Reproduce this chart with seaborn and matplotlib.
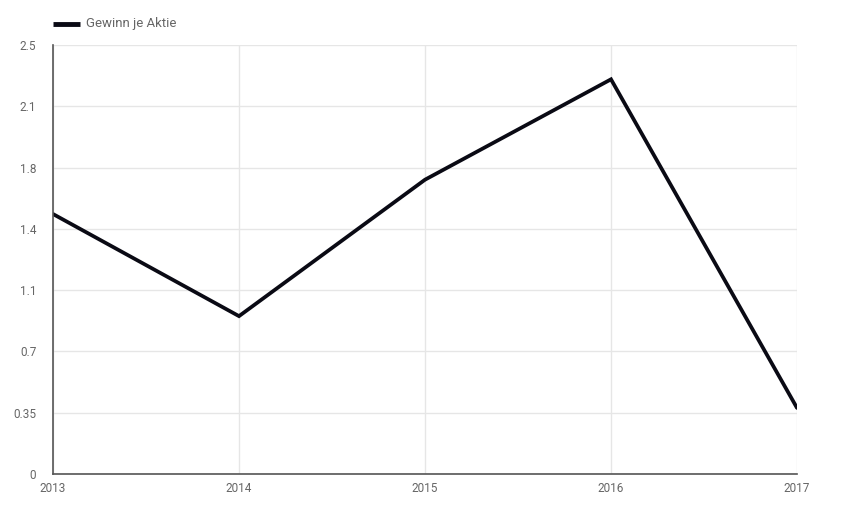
import matplotlib
matplotlib.use("Agg")
import matplotlib.pyplot as plt
import seaborn as sns
import pandas as pd

years = [2013, 2014, 2015, 2016, 2017]
eps = [1.515, 0.92, 1.715, 2.30, 0.385]
series_name = "Gewinn je Aktie"
ytick_vals = [0, 2.5/7, 5/7, 7.5/7, 10/7, 12.5/7, 15/7, 2.5]
ytick_labels = ["0", "0.35", "0.7", "1.1", "1.4", "1.8", "2.1", "2.5"]

df = pd.DataFrame({"Jahr": years, "Wert": eps})

sns.set_theme(style="white")
plt.rcParams['font.family'] = ['Roboto', 'DejaVu Sans']

fig = plt.figure(figsize=(8.48, 5.09), dpi=100)
ax = fig.add_axes([53/848, 1 - 474/509, (797-53)/848, (474-45)/509])

sns.lineplot(data=df, x="Jahr", y="Wert", ax=ax, color="#0a0a14", linewidth=2.7,
             label=series_name, legend=False, solid_joinstyle="miter")

ax.set_xlim(2013, 2017)
ax.set_ylim(0, 2.5)
ax.set_xticks(years)
ax.set_xticklabels([str(y) for y in years])
ax.set_yticks(ytick_vals)
ax.set_yticklabels(ytick_labels)
ax.grid(True, color="#e6e6e6", linewidth=1)
ax.set_axisbelow(True)
for s in ["top", "right"]:
    ax.spines[s].set_visible(False)
for s in ["left", "bottom"]:
    ax.spines[s].set_color("#555555")
    ax.spines[s].set_linewidth(1.2)
ax.tick_params(axis="both", length=0, labelsize=8.5, labelcolor="#666666")
ax.tick_params(axis="x", pad=6)
ax.tick_params(axis="y", pad=12)
ax.set_xlabel("")
ax.set_ylabel("")

# legend
fig.lines.append(plt.Line2D([53/848, 80/848], [1-24/509, 1-24/509], transform=fig.transFigure,
                            color="#0a0a14", linewidth=3.5, solid_capstyle="butt"))
fig.text(86/848, 1-24/509, series_name, fontsize=9.5, color="#666666", va="center", ha="left")

fig.savefig("out.png", dpi=100)
